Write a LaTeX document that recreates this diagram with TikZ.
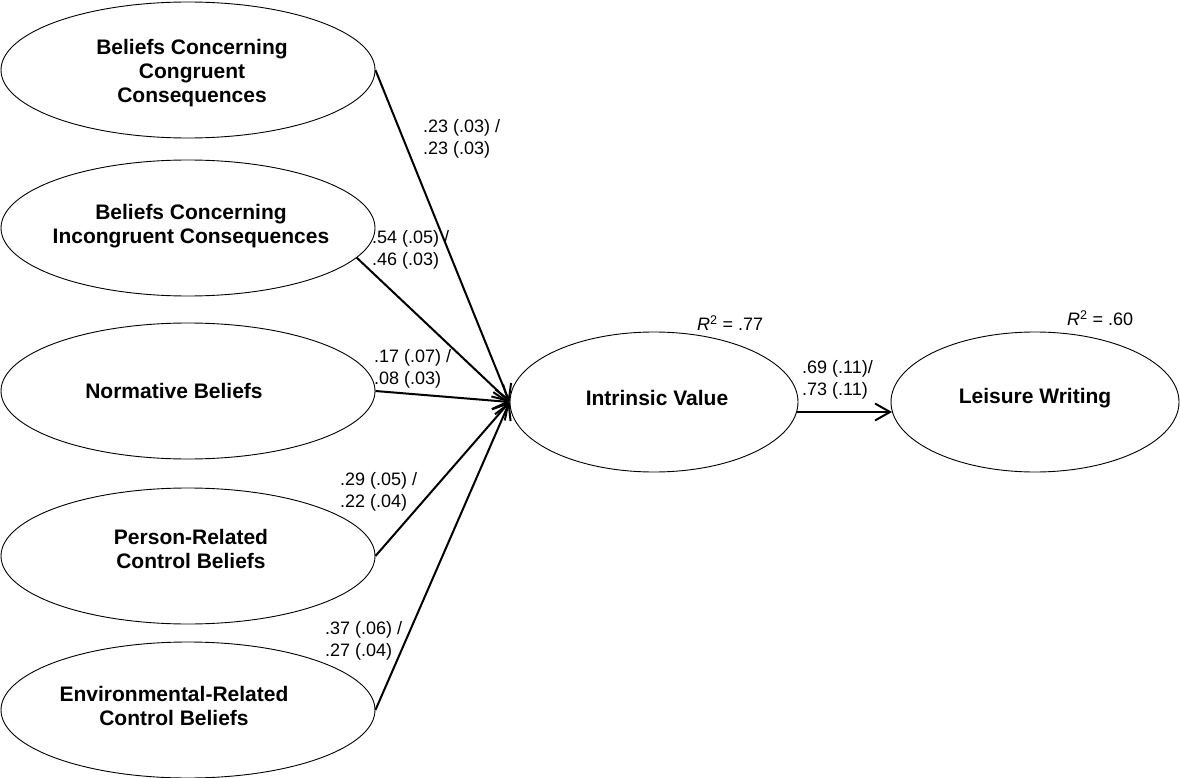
\documentclass[tikz,border=0pt]{standalone}
\usepackage{fontspec}
\setmainfont{Liberation Sans}
\usetikzlibrary{shapes.geometric,arrows.meta}

\begin{document}
\begin{tikzpicture}[x=1pt,y=-1pt,
  construct/.style={draw, ellipse, line width=0.9pt, inner sep=0pt},
  predictor/.style={construct, minimum width=374pt, minimum height=136pt},
  outcome/.style={construct, minimum width=288pt, minimum height=140pt},
  conlabel/.style={font=\fontsize{21}{24}\selectfont\bfseries, align=center, inner sep=0pt},
  coef/.style={font=\fontsize{18}{22}\selectfont, align=left, anchor=west, inner sep=0pt},
  rsq/.style={font=\fontsize{18}{22}\selectfont, anchor=west, inner sep=0pt},
  effect/.style={line width=2pt, -{Straight Barb[length=15pt,width=17pt,line width=2pt]}}
]
\useasboundingbox (0,0) rectangle (1180,778);

% predictor constructs
\node[predictor] (e1) at (188,70) {};
\node[predictor] (e2) at (188,228) {};
\node[predictor] (e3) at (188,391) {};
\node[predictor] (e4) at (188,556) {};
\node[predictor] (e5) at (188,710) {};

\node[conlabel] (t1) at (192,73) {Beliefs Concerning\\Congruent\\Consequences};
\node[conlabel] (t2) at (191,226) {Beliefs Concerning\\Incongruent Consequences};
\node[conlabel] (t3) at (174,391) {Normative Beliefs};
\node[conlabel] (t4) at (191,549) {Person-Related\\Control Beliefs};
\node[conlabel] (t5) at (174,706) {Environmental-Related\\Control Beliefs};

% mediator and outcome
\node[outcome] (iv) at (654,402) {};
\node[outcome] (lw) at (1035,402) {};
\node[conlabel] (tiv) at (657,398) {Intrinsic Value};
\node[conlabel] (tlw) at (1035,398) {Leisure Writing};

% paths
\draw[effect] (e1.east) -- (iv.west);
\draw[effect] (e2.-10.5) -- (iv.west);
\draw[effect] (e3.east) -- (iv.west);
\draw[effect] (e4.east) -- (iv.west);
\draw[effect] (e5.east) -- (iv.west);
\draw[effect] (iv.-4) -- (lw.184);

% path coefficients
\node[coef] (c1) at (423,139) {.23 (.03) /\\.23 (.03)};
\node[coef] (c2) at (372,249.5) {.54 (.05) /\\.46 (.03)};
\node[coef] (c3) at (374,369) {.17 (.07) /\\.08 (.03)};
\node[coef] (c4) at (340,491.5) {.29 (.05) /\\.22 (.04)};
\node[coef] (c5) at (325,640.5) {.37 (.06) /\\.27 (.04)};
\node[coef] (c6) at (802,380) {.69 (.11)/\\.73 (.11)};

% explained variance
\node[rsq] (r1) at (697,323) {\textit{R}\textsuperscript{2} = .77};
\node[rsq] (r2) at (1067,318) {\textit{R}\textsuperscript{2} = .60};
\end{tikzpicture}
\end{document}
